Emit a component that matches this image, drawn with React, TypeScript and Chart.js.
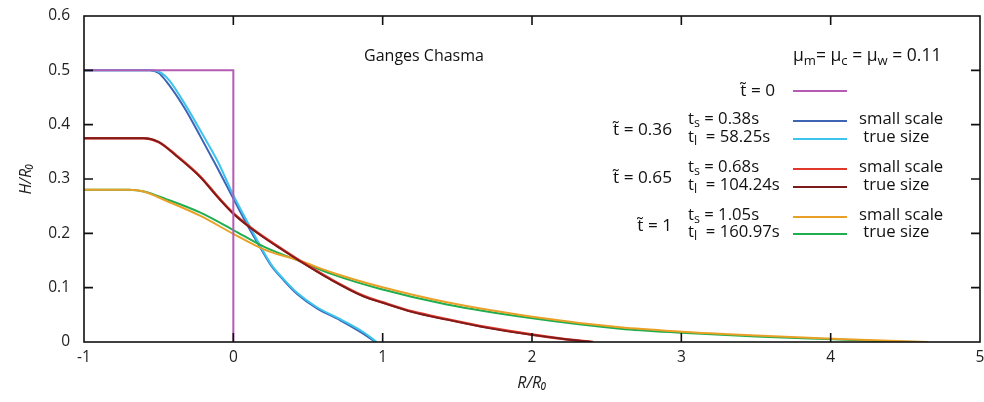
import React, { useEffect, useRef } from "react";
import { Chart, registerables } from "chart.js";

Chart.register(...registerables);

// ---- data ----
const t0X = [-1, 0, 0];
const t0Y = [0.5, 0.5, 0];

const smallScale036X = [-1, -0.56, -0.5, -0.45, -0.33, -0.22, -0.11, 0.0, 0.1, 0.18, 0.26, 0.336, 0.425, 0.56, 0.716, 0.872, 0.95];
const smallScale036Y = [0.5, 0.5, 0.495, 0.48, 0.432, 0.378, 0.322, 0.264, 0.212, 0.174, 0.138, 0.114, 0.089, 0.062, 0.04, 0.015, 0];
const trueSize036X = [-1, -0.54, -0.48, -0.43, -0.32, -0.21, -0.1, 0.0, 0.1, 0.18, 0.26, 0.336, 0.425, 0.56, 0.716, 0.872, 0.96];
const trueSize036Y = [0.5, 0.5, 0.495, 0.482, 0.436, 0.384, 0.33, 0.27, 0.218, 0.177, 0.14, 0.116, 0.091, 0.064, 0.042, 0.018, 0];

const smallScale065X = [-1, -0.6, -0.5, -0.38, -0.22, -0.1, 0.0, 0.1, 0.2, 0.32, 0.45, 0.65, 0.87, 1.0, 1.2, 1.43, 1.7, 1.99, 2.2, 2.41];
const smallScale065Y = [0.375, 0.375, 0.368, 0.343, 0.304, 0.266, 0.237, 0.214, 0.194, 0.172, 0.149, 0.116, 0.085, 0.073, 0.056, 0.042, 0.027, 0.014, 0.006, 0];
const trueSize065X = [-1, -0.6, -0.5, -0.38, -0.22, -0.1, 0.0, 0.1, 0.2, 0.32, 0.45, 0.65, 0.87, 1.0, 1.2, 1.43, 1.7, 1.99, 2.2, 2.4];
const trueSize065Y = [0.375, 0.375, 0.368, 0.342, 0.303, 0.265, 0.236, 0.213, 0.193, 0.171, 0.148, 0.115, 0.084, 0.072, 0.055, 0.041, 0.026, 0.0135, 0.006, 0];

const smallScale1X = [-1, -0.7, -0.6, -0.45, -0.22, 0.0, 0.2, 0.45, 0.67, 0.98, 1.43, 1.99, 2.59, 3.0, 3.5, 4.02, 4.3, 4.65];
const smallScale1Y = [0.28, 0.28, 0.277, 0.26, 0.232, 0.199, 0.171, 0.149, 0.127, 0.102, 0.073, 0.047, 0.027, 0.019, 0.012, 0.006, 0.003, 0];
const trueSize1X = [-1, -0.7, -0.6, -0.45, -0.22, 0.0, 0.2, 0.45, 0.67, 0.98, 1.43, 1.99, 2.59, 3.0, 3.5, 4.02, 4.3, 4.6];
const trueSize1Y = [0.28, 0.28, 0.277, 0.263, 0.238, 0.206, 0.176, 0.148, 0.124, 0.098, 0.069, 0.044, 0.0245, 0.017, 0.01, 0.005, 0.002, 0];

const xTickValues = [-1, 0, 1, 2, 3, 4, 5];
const yTickValues = [0, 0.1, 0.2, 0.3, 0.4, 0.5, 0.6];

const FONT = "'Open Sans', 'Noto Sans', sans-serif";

type Seg = { t: string; sub?: boolean };

function drawRich(ctx: CanvasRenderingContext2D, segs: Seg[], x: number, y: number, align: "left" | "right" | "center", size: number) {
  const widths = segs.map((s) => {
    ctx.font = `${s.sub ? size * 0.75 : size}px ${FONT}`;
    return ctx.measureText(s.t).width;
  });
  const total = widths.reduce((a, b) => a + b, 0);
  let cx = align === "left" ? x : align === "right" ? x - total : x - total / 2;
  ctx.textBaseline = "middle";
  ctx.textAlign = "left";
  segs.forEach((s, i) => {
    ctx.font = `${s.sub ? size * 0.75 : size}px ${FONT}`;
    ctx.fillText(s.t, cx, s.sub ? y + size * 0.28 : y);
    cx += widths[i];
  });
}

function pts(xs: number[], ys: number[]) {
  return xs.map((x, i) => ({ x, y: ys[i] }));
}

const framePlugin = {
  id: "frame",
  afterDatasetsDraw(chart: any) {
    const { ctx, chartArea: a, scales } = chart;
    const xs = scales.x;
    const ys = scales.y;
    ctx.save();
    ctx.strokeStyle = "#111";
    ctx.lineWidth = 1.6;
    ctx.strokeRect(a.left, a.top, a.right - a.left, a.bottom - a.top);
    const L = 9;
    ctx.beginPath();
    xTickValues.forEach((v) => {
      const px = xs.getPixelForValue(v);
      if (px > a.left + 1 && px < a.right - 1) {
        ctx.moveTo(px, a.bottom);
        ctx.lineTo(px, a.bottom - L);
        ctx.moveTo(px, a.top);
        ctx.lineTo(px, a.top + L);
      }
    });
    yTickValues.forEach((v) => {
      const py = ys.getPixelForValue(v);
      if (py > a.top + 1 && py < a.bottom - 1) {
        ctx.moveTo(a.left, py);
        ctx.lineTo(a.left + L, py);
        ctx.moveTo(a.right, py);
        ctx.lineTo(a.right - L, py);
      }
    });
    ctx.stroke();

    // annotations / legend
    ctx.fillStyle = "#111";
    const fs = 16.7;
    drawRich(ctx, [{ t: "Ganges Chasma" }], 424, 56, "center", 16);
    drawRich(
      ctx,
      [{ t: "μ" }, { t: "m", sub: true }, { t: "= μ" }, { t: "c", sub: true }, { t: " = μ" }, { t: "w", sub: true }, { t: " = 0.11" }],
      793,
      56,
      "left",
      17.5
    );
    const legendRows = [
      { label: "t\u0303 = 0", ly: 91, rows: [{ y: 91, color: "#b45cb4", param: null as Seg[] | null, name: "" }] },
      {
        label: "t\u0303 = 0.36",
        ly: 130,
        rows: [
          { y: 121, color: "#3d65b4", param: [{ t: "t" }, { t: "s", sub: true }, { t: " = 0.38s" }], name: "small scale" },
          { y: 139, color: "#3cc4ef", param: [{ t: "t" }, { t: "l", sub: true }, { t: "  = 58.25s" }], name: " true size" },
        ],
      },
      {
        label: "t\u0303 = 0.65",
        ly: 178,
        rows: [
          { y: 169, color: "#e0382a", param: [{ t: "t" }, { t: "s", sub: true }, { t: " = 0.68s" }], name: "small scale" },
          { y: 187, color: "#7d1b1b", param: [{ t: "t" }, { t: "l", sub: true }, { t: "  = 104.24s" }], name: " true size" },
        ],
      },
      {
        label: "t\u0303 = 1",
        ly: 226,
        rows: [
          { y: 217, color: "#e9a026", param: [{ t: "t" }, { t: "s", sub: true }, { t: " = 1.05s" }], name: "small scale" },
          { y: 234, color: "#1fae4f", param: [{ t: "t" }, { t: "l", sub: true }, { t: "  = 160.97s" }], name: " true size" },
        ],
      },
    ];
    legendRows.forEach((g, gi) => {
      ctx.fillStyle = "#111";
      if (gi === 0) drawRich(ctx, [{ t: g.label }], 775, g.ly, "right", fs + 0.5);
      else drawRich(ctx, [{ t: g.label }], 672, g.ly, "right", fs + 0.5);
      g.rows.forEach((r) => {
        ctx.strokeStyle = r.color;
        ctx.lineWidth = 2;
        ctx.beginPath();
        ctx.moveTo(793, r.y);
        ctx.lineTo(847, r.y);
        ctx.stroke();
        ctx.fillStyle = "#111";
        if (r.param) drawRich(ctx, r.param, 688, r.y - 2, "left", fs);
        if (r.name) drawRich(ctx, [{ t: r.name }], 859, r.y - 2, "left", fs);
      });
    });
    ctx.restore();
  },
};

export default function App() {
  const ref = useRef<HTMLCanvasElement | null>(null);
  useEffect(() => {
    if (!ref.current) return;
    const mk = (label: string, xs: number[], ys: number[], color: string, width = 2) => ({
      label,
      data: pts(xs, ys),
      borderColor: color,
      backgroundColor: color,
      borderWidth: width,
      pointRadius: 0,
      showLine: true,
      fill: false,
      cubicInterpolationMode: "monotone" as const,
    });
    // Chart.js paints the first dataset on top
    const chart = new Chart(ref.current, {
      type: "scatter",
      data: {
        datasets: [
          { ...mk("t=0", t0X, t0Y, "#b45cb4"), cubicInterpolationMode: "default" as any, tension: 0 },
          mk("t=0.65 true size", trueSize065X, trueSize065Y, "#7d1b1b", 1.8),
          mk("t=0.65 small scale", smallScale065X, smallScale065Y, "#e0382a", 2.6),
          mk("t=1 small scale", smallScale1X, smallScale1Y, "#e9a026"),
          mk("t=1 true size", trueSize1X, trueSize1Y, "#1fae4f"),
          mk("t=0.36 true size", trueSize036X, trueSize036Y, "#3cc4ef"),
          mk("t=0.36 small scale", smallScale036X, smallScale036Y, "#3d65b4"),
        ],
      },
      options: {
        animation: false,
        responsive: false,
        devicePixelRatio: 1,
        layout: { padding: { left: 0, right: 4, top: 16, bottom: 0 } },
        plugins: { legend: { display: false }, tooltip: { enabled: false } },
        scales: {
          x: {
            type: "linear",
            min: -1,
            max: 5,
            afterFit: (s: any) => {
              s.height = 60;
              s.paddingLeft = 0;
              s.paddingRight = 0;
            },
            afterBuildTicks: (s: any) => {
              s.ticks = xTickValues.map((v) => ({ value: v }));
            },
            grid: { display: false, drawTicks: false },
            border: { display: false },
            ticks: { color: "#222", padding: 6, font: { family: FONT, size: 15.5 }, maxRotation: 0 },
            title: {
              display: true,
              text: "R/R₀",
              color: "#222",
              font: { family: FONT, size: 16, style: "italic" },
              padding: { top: 9, bottom: 9 },
            },
          },
          y: {
            type: "linear",
            min: 0,
            max: 0.6,
            afterFit: (s: any) => {
              s.width = 84;
              s.paddingTop = 0;
              s.paddingBottom = 0;
            },
            afterBuildTicks: (s: any) => {
              s.ticks = yTickValues.map((v) => ({ value: v }));
            },
            grid: { display: false, drawTicks: false },
            border: { display: false },
            ticks: {
              color: "#222",
              padding: 14,
              font: { family: FONT, size: 15.5 },
              callback: (v: any) => String(Math.round(Number(v) * 10) / 10),
            },
            title: {
              display: true,
              text: "H/R₀",
              color: "#222",
              font: { family: FONT, size: 16, style: "italic" },
              padding: { top: 17, bottom: 0 },
            },
          },
        },
      },
      plugins: [framePlugin],
    });
    return () => chart.destroy();
  }, []);
  return (
    <div style={{ position: "absolute", left: 0, top: 0, width: 984, height: 402, background: "#fff" }}>
      <canvas ref={ref} width={984} height={402} style={{ width: 984, height: 402, display: "block" }} />
    </div>
  );
}
